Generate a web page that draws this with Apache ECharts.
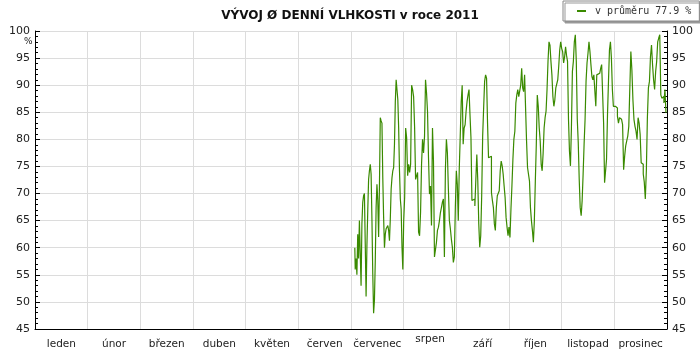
<!DOCTYPE html>
<html>
<head>
    <meta charset="utf-8">
    <title>Vlhkost 2011</title>
    <script src="https://cdn.jsdelivr.net/npm/echarts@6/dist/echarts.min.js"></script>
    <style>
        html, body { margin: 0; padding: 0; background: #fff; }
        #chart1 { width: 700px; height: 350px; }
    </style>
</head>
<body>
<div id="chart1"></div>
<script type="text/javascript">
    // mesice na ose x
    var mesice = ['leden', 'únor', 'březen', 'duben', 'květen', 'červen',
        'červenec', 'srpen', 'září', 'říjen', 'listopad', 'prosinec'];
    var prumer = '77.9';

    // odecty vlhkosti (%) po jednotlivych mesicich, mereni od 3. cervence
    var prvniDenCervence = 3;
    var cervenec = [60, 56, 58, 55, 62.5, 58, 65, 59, 53, 64.4, 68.4, 69.6, 70, 60.7, 51, 60.4, 66.8, 72.6, 74.2, 75.4,
        73.6, 65.3, 55.2, 47.9, 50.3, 57.6, 67.4, 71.7, 68.7, 62, 71.4, 84, 83.4, 83, 72.9, 65.6, 60, 62.5, 63.5, 63.8,
        64.1, 63.2, 61.3, 65.3, 70.8, 72.9, 74.2, 74.8, 79.1, 87, 91, 91, 87.3, 82.1, 74.2, 69, 67.1, 60.1, 56];
    var srpen = [65, 69.3, 82.1, 80.3, 73.3, 75.4, 73.9, 75.4, 90, 89.2, 87.9, 82.3, 72.6, 72.3, 73.9, 62.9, 62.2, 66.5,
        75.4, 80, 77.5, 80.6, 91, 88.6, 85.2, 76.6, 69.9, 71.4, 64.1, 82.1, 76, 58.3, 58.3, 61, 63.2, 63.8, 65, 66.5,
        67.4, 68.4, 69, 58.3, 74.5, 80, 77.5, 70.8, 65, 63.5, 61.6, 60.1, 57.3, 58.3, 67.4];
    var zari = [74.2, 71.7, 65, 74.5, 80.6, 86.9, 90, 79.1, 82.1, 82.7, 85.2, 87, 88.2, 89.2, 84.6, 80.3, 68.7, 68.7,
        69, 67.7, 72.6, 77.2, 72.3, 64.4, 60.1, 62.2, 69.6, 80.6, 85.8, 90.7, 91.9, 91.3, 83, 76.6, 76.3, 76.9, 70.2,
        68.7, 67.4, 64.4, 63.2, 67.4, 69.6, 69.9, 70.5, 74.2, 76, 75.1, 73.6, 71.4, 69.3, 65.6, 63.8, 62.2];
    var rijen = [63.8, 61.9, 67.1, 71.4, 76.3, 80, 81.5, 86.7, 88.2, 89.2, 87.9, 87.6, 90, 93.1, 89.5, 88.8, 91.9, 91.9,
        79.7, 74.8, 75.1, 72.3, 67.4, 65, 63.2, 61, 65, 72.3, 79.1, 88.2, 86.1, 82.1, 79.7, 75.4, 74.2, 77.5, 82.1, 84,
        85.2, 89.2, 94.4, 98, 97.4, 94.4, 91.9, 87.9, 86.1, 87.3, 89.5, 89.8, 91, 93.5, 96.5, 98];
    var listopad = [96.8, 96.2, 94.1, 95.2, 97.1, 95.5, 94.4, 83.7, 77.8, 75.1, 82.1, 92.5, 94.4, 98, 99.3, 94.4, 83.7,
        79.4, 72.6, 67.4, 65.9, 68.7, 73.6, 79.1, 83.7, 90.7, 94.1, 95.9, 98, 96.2, 93.8, 91.6, 91, 91.9, 91.6, 86.1,
        91.9, 91.9, 92.2, 92.2, 93.1, 93.8, 94.1, 83, 72, 72, 76.3, 84.6, 90.7, 96.5, 98, 95, 89.2, 86.1];
    var prosinec = [86.1, 86.1, 85.8, 84.3, 83, 84, 83.7, 83.4, 82.7, 74.4, 76.9, 78.8, 79.7, 80.6, 82.4, 89.5, 96.2,
        92.8, 87.3, 83.7, 82.4, 81.5, 80, 84, 83, 80.9, 75.7, 75.4, 73.6, 72.1, 69, 74.2, 84, 89.5, 90.7, 95.3, 97.4,
        93.8, 91, 89.2, 92.5, 94.4, 98, 98.7, 99.3, 88.2, 87.6, 87.9, 86.7, 89.2, 84.9];

    // poloha na ose x v jednotkach mesicu (0 = zacatek ledna)
    function body(hodnoty, mesic, odDne, dnu) {
        var s = (odDne - 1) / dnu;
        return hodnoty.map(function (v, i) {
            return [mesic + s + (1 - s) * (i + 0.5) / hodnoty.length, v];
        });
    }
    var data = [].concat(
        body(cervenec, 6, prvniDenCervence, 31),
        body(srpen, 7, 1, 31),
        body(zari, 8, 1, 30),
        body(rijen, 9, 1, 31),
        body(listopad, 10, 1, 30),
        body(prosinec, 11, 1, 31)
    );

    var font = 'DejaVu Sans';
    var osaY = {
        type: 'value', min: 45, max: 100, interval: 5,
        axisLine: {show: true, lineStyle: {color: '#000'}},
        axisTick: {show: true, inside: true, length: 5, lineStyle: {color: '#000'}},
        minorTick: {show: true, splitNumber: 5, length: 3, lineStyle: {color: '#000'}},
        axisLabel: {color: '#222', fontFamily: font, fontSize: 11, margin: 5},
        splitLine: {show: false}
    };

    // "srpen" je v predloze posazen o kus vys
    var popisky = mesice.map(function (m) {
        return m === 'srpen' ? {value: m, textStyle: {verticalAlign: 'middle'}} : m;
    });

    var myChart1 = echarts.init(document.getElementById('chart1'));
    myChart1.setOption({
        animation: false,
        title: {
            text: 'VÝVOJ Ø DENNÍ VLHKOSTI v roce 2011',
            left: 'center', top: 5,
            textStyle: {fontFamily: font, fontSize: 12, fontWeight: 'bold', color: '#111'}
        },
        legend: {
            data: ['v průměru ' + prumer + ' %'],
            left: 563, top: 1,
            padding: [5, 8, 5, 14],
            backgroundColor: '#fff',
            borderColor: '#888', borderWidth: 1,
            shadowColor: '#999', shadowOffsetX: 2, shadowOffsetY: 2, shadowBlur: 0,
            icon: 'rect', itemWidth: 9, itemHeight: 2,
            textStyle: {fontFamily: 'DejaVu Sans Mono', fontSize: 10, color: '#333', padding: [0, 0, 0, 4]}
        },
        graphic: [{
            type: 'text', left: 24, top: 37,
            style: {text: '%', fontFamily: font, fontSize: 9, fill: '#222'}
        }],
        grid: {left: 35, right: 33, top: 31, bottom: 20},
        xAxis: [{
            type: 'category', data: popisky, boundaryGap: true,
            axisLine: {lineStyle: {color: '#000'}},
            axisTick: {inside: true, length: 5, interval: 0, lineStyle: {color: '#000'}},
            axisLabel: {
                interval: 0, hideOverlap: false,
                color: '#222', fontFamily: font, fontSize: 10.5, margin: 10
            },
            splitLine: {show: true, interval: 0, lineStyle: {color: '#dcdcdc'}}
        }, {
            type: 'value', min: 0, max: 12, show: false
        }],
        yAxis: [
            Object.assign({}, osaY, {
                position: 'left',
                splitLine: {show: true, lineStyle: {color: '#dcdcdc'}}
            }),
            Object.assign({}, osaY, {position: 'right'})
        ],
        series: [{
            name: 'v průměru ' + prumer + ' %',
            type: 'line',
            xAxisIndex: 1,
            yAxisIndex: 0,
            step: 'middle',
            showSymbol: false,
            color: '#3a8a00',
            lineStyle: {width: 1.2, color: '#3a8a00'},
            data: data
        }]
    });
</script>
</body>
</html>
